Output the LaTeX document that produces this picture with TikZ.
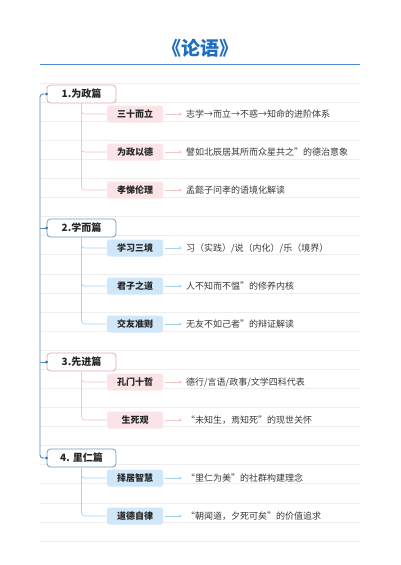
\documentclass[tikz,border=0pt]{standalone}
\usepackage{fontspec}
\setmainfont{Noto Sans CJK SC}
\usetikzlibrary{arrows.meta,calc}
\definecolor{titleblue}{HTML}{1F6EC2}
\definecolor{trunkc}{HTML}{5A8DBD}
\definecolor{pinkb}{HTML}{E8A9B1}
\definecolor{blueb}{HTML}{6A9CCB}
\definecolor{pinkf}{HTML}{FBE4E7}
\definecolor{bluef}{HTML}{CFE7F8}
\definecolor{pinkl}{HTML}{F3C6CC}
\definecolor{bluel}{HTML}{A8D2EE}
\definecolor{rulec}{HTML}{EEEEEE}
\definecolor{textc}{HTML}{3A3A3A}
\tikzset{
  head/.style={draw, line width=0.8pt, rounded corners=3.5pt, fill=white, minimum width=69pt, minimum height=18pt, inner sep=0pt, font=\bfseries\fontsize{10}{12}\selectfont, text=black!85},
  headpink/.style={head, draw=pinkb},
  headblue/.style={head, draw=blueb},
  subbox/.style={rounded corners=2.5pt, minimum width=56pt, minimum height=17pt, inner sep=0pt, font=\bfseries\fontsize{9}{11}\selectfont, text=black!85},
  subpink/.style={subbox, fill=pinkf},
  subblue/.style={subbox, fill=bluef},
  desc/.style={anchor=west, inner sep=2pt, font=\fontsize{9}{11}\selectfont, text=textc},
  treepink/.style={draw=pinkl, line width=0.7pt, rounded corners=3pt},
  treeblue/.style={draw=bluel, line width=0.7pt, rounded corners=3pt},
  arrpink/.style={draw=pinkl, line width=0.7pt, -{Stealth[length=3pt,width=3pt]}, shorten <=2pt, shorten >=2pt},
  arrblue/.style={draw=bluel, line width=0.7pt, -{Stealth[length=3pt,width=3pt]}, shorten <=2pt, shorten >=2pt},
  trunk/.style={draw=trunkc, line width=0.9pt, rounded corners=3pt},
}
\begin{document}
\begin{tikzpicture}[x=1pt,y=-1pt]
\fill[white] (0,0) rectangle (400,565);
\useasboundingbox (0,0) rectangle (400,565);
% ruled lines
\foreach \i in {0,...,24} {
  \draw[rulec, line width=0.5pt] (40,{83+19.08*\i}) -- (360,{83+19.08*\i});
}
% title
\node[font=\bfseries\fontsize{19}{22}\selectfont, text=titleblue] (title) at (200,48) {《论语》};
\draw[titleblue!80, line width=0.9pt] (40,64) -- (360,64);

% headers
\node[headpink] (h1) at (81.5,94) {1.为政篇};
\node[headblue] (h2) at (81.5,228) {2.学而篇};
\node[headpink] (h3) at (81.5,362) {3.先进篇};
\node[headblue] (h4) at (81.5,458) {4. 里仁篇};

% trunk
\draw[trunk] (h1.west) -| (40,458) -- (h4.west);
\draw[trunk] (h2.west) -- (40,228);
\draw[trunk] (h3.west) -- (40,362);
\foreach \h in {h1,h2,h3,h4} { \fill[trunkc!80!black] (\h.west) circle (1.5pt); }

% group 1
\node[subpink] (s11) at (135,114) {三十而立};
\node[subpink] (s12) at (135,152) {为政以德};
\node[subpink] (s13) at (135,190) {孝悌伦理};
\node[desc] (d11) at (184,114) {志学→而立→不惑→知命的进阶体系};
\node[desc] (d12) at (184,152) {譬如北辰居其所而众星共之”的德治意象};
\node[desc] (d13) at (184,190) {孟懿子问孝的语境化解读};
\foreach \k in {1,2,3} {
  \draw[treepink] (h1.south) |- (s1\k.west);
  \draw[arrpink] (s1\k.east) -- (d1\k.west);
}

% group 2
\node[subblue] (s21) at (135,248) {学习三境};
\node[subblue] (s22) at (135,286) {君子之道};
\node[subblue] (s23) at (135,324) {交友准则};
\node[desc] (d21) at (184,248) {习（实践）/说（内化）/乐（境界）};
\node[desc] (d22) at (184,286) {人不知而不愠”的修养内核};
\node[desc] (d23) at (184,324) {无友不如己者”的辩证解读};
\foreach \k in {1,2,3} {
  \draw[treeblue] (h2.south) |- (s2\k.west);
  \draw[arrblue] (s2\k.east) -- (d2\k.west);
}

% group 3
\node[subpink] (s31) at (135,382) {孔门十哲};
\node[subpink] (s32) at (135,420) {生死观};
\node[desc] (d31) at (184,382) {德行/言语/政事/文学四科代表};
\node[desc] (d32) at (184,420) {“未知生，焉知死”的现世关怀};
\foreach \k in {1,2} {
  \draw[treepink] (h3.south) |- (s3\k.west);
  \draw[arrpink] (s3\k.east) -- (d3\k.west);
}

% group 4
\node[subblue] (s41) at (135,478) {择居智慧};
\node[subblue] (s42) at (135,516) {道德自律};
\node[desc] (d41) at (184,478) {“里仁为美”的社群构建理念};
\node[desc] (d42) at (184,516) {“朝闻道，夕死可矣”的价值追求};
\foreach \k in {1,2} {
  \draw[treeblue] (h4.south) |- (s4\k.west);
  \draw[arrblue] (s4\k.east) -- (d4\k.west);
}
\end{tikzpicture}
\end{document}
